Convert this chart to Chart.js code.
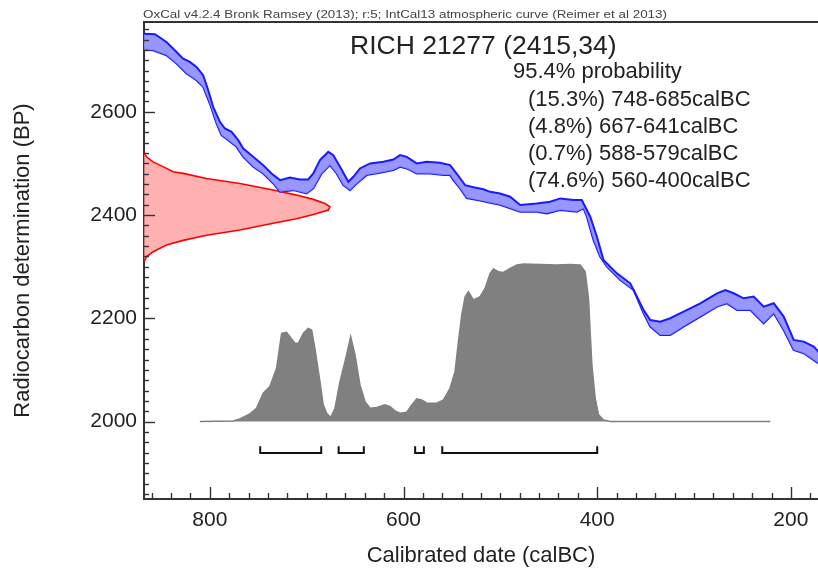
<!DOCTYPE html>
<html><head><meta charset="utf-8">
<script src="https://cdn.jsdelivr.net/npm/chart.js@4"></script>
<style>html,body{margin:0;padding:0;background:#fff;}#wrap{width:818px;height:571px;}</style>
</head><body><div id="wrap"><canvas id="c" width="818" height="571"></canvas></div>
<script>
// ---------- data ----------
const headerText = 'OxCal v4.2.4 Bronk Ramsey (2013); r:5; IntCal13 atmospheric curve (Reimer et al 2013)';
const sampleName = 'RICH 21277';
const sampleBP = 2415;
const sampleErr = 34;
const probLabel = '95.4% probability';
const xTickLabels = [800, 600, 400, 200];
const yTickLabels = [2000, 2200, 2400, 2600];

// calibration curve band (IntCal13), upper and lower edges
const curveUpperYears = [868.2,856.8,844.8,834.4,827.6,820.7,813.8,806.9,801.7,796.6,789.6,784.5,777.6,770.7,765.5,755.2,744.9,736.3,727.6,717.3,707.0,698.4,693.2,686.3,677.7,672.5,665.6,657.0,651.8,645.0,634.6,620.8,610.5,603.6,596.7,586.4,576.0,562.3,551.9,545.0,536.4,527.8,517.5,510.6,500.3,489.9,479.6,462.4,448.6,438.2,424.5,415.9,407.2,400.3,393.5,379.7,365.9,359.0,352.1,345.2,334.9,324.6,310.8,293.5,276.3,267.7,259.1,248.8,238.4,228.1,217.7,207.4,197.1,186.7,176.4,171.6,165];
const curveUpperBP    = [2751.5,2750.2,2735.4,2716.0,2703.1,2696.7,2687.0,2670.9,2641.9,2609.6,2580.6,2567.7,2561.2,2545.1,2529.0,2512.8,2496.7,2480.6,2467.7,2472.9,2469.0,2469.0,2480.6,2506.4,2522.5,2516.1,2493.5,2464.5,2474.2,2490.3,2500.0,2503.2,2507.7,2516.1,2512.8,2500.0,2503.2,2501.2,2496.8,2480,2458,2454,2450,2445,2441.9,2435.5,2419.4,2422.6,2425.8,2432.3,2429.1,2429.1,2396.8,2358.1,2312.9,2287.1,2267.8,2242.0,2216.2,2196.8,2193.6,2200.1,2213.0,2229.1,2248.5,2254.9,2248.5,2238.8,2242.0,2222.6,2229.1,2203.3,2158.2,2154.9,2145.3,2135.6,2128];
const curveLowerYears = [868.2,858.6,844.8,834.4,824.1,813.8,806.9,800.0,793.1,788.0,781.0,772.4,765.5,755.2,744.9,734.5,727.6,713.9,700.1,693.2,684.6,676.0,669.1,662.2,655.3,648.4,638.1,624.3,610.5,603.6,596.7,586.4,572.6,558.8,551.9,548.5,541.6,534.7,520.9,510.6,500.3,479.6,462.4,452.0,438.2,421.0,414.1,410.7,403.8,396.9,390.0,376.2,362.4,352.1,345.2,334.9,324.6,310.8,293.5,276.3,266.0,255.6,241.9,228.1,217.7,207.4,197.1,186.7,171.6,165];
const curveLowerBP    = [2720.5,2719.2,2709.6,2693.5,2674.1,2661.2,2648.3,2616.1,2577.4,2554.8,2545.1,2532.2,2512.8,2493.5,2480.6,2461.2,2445.1,2448.3,2441.9,2451.6,2480.6,2496.7,2480.6,2458.0,2448.3,2461.2,2477.4,2481.9,2487.1,2493.5,2490.3,2480.6,2480.6,2477.4,2477.4,2467.7,2451.6,2433,2428,2424,2420,2406.5,2406.5,2403.3,2409.7,2406.5,2412.9,2396.8,2351.6,2319.4,2300.1,2274.3,2254.9,2209.7,2184.0,2167.8,2167.8,2184.0,2203.3,2222.6,2229.1,2216.2,2216.2,2190.4,2209.7,2177.5,2138.8,2132.4,2112.9,2106];

// radiocarbon measurement (red), drawn against the y axis
const measYears = [868.2,865.4,858.6,844.8,837.9,827.6,803.4,769.0,734.6,710.4,693.2,681.1,676.0,677.7,693.2,710.4,734.6,769.0,803.4,827.6,844.8,858.6,865.4,868.2];
const measBP    = [2522.5,2512.8,2503.1,2490.4,2483.8,2480.7,2471.0,2461.3,2448.4,2438.7,2430.4,2422.6,2416.1,2409.7,2401,2393,2384,2371,2361,2351,2342,2329,2319,2309];

// calibrated probability distribution (grey)
const postYears = [810.3,775.9,769.0,758.7,751.8,744.9,738.0,731.1,725.9,720.8,717.3,712.1,708.7,703.5,698.4,694.9,691.5,686.3,682.9,679.4,675.3,670.8,665.6,658.8,654.6,650.1,645.0,639.8,634.6,627.7,619.1,613.9,608.8,603.6,596.7,591.5,586.4,581.2,576.0,565.7,558.8,551.9,546.8,543.3,539.9,536.4,533.0,527.8,520.9,515.8,510.6,507.2,502.0,496.8,489.9,483.0,476.1,458.9,441.7,427.9,417.6,412.4,409.0,407.3,405.5,402.1,398.6,393.4,386.6,221.2];
const postBP    = [2000,2001.3,2005.2,2014.8,2025.8,2054.8,2067.7,2103.2,2170.9,2172.9,2164.5,2151.6,2151.6,2170.9,2180.6,2177.4,2141.9,2077.4,2032.3,2016.1,2007.7,2025.8,2077.4,2129.0,2164.5,2129.0,2071.0,2038.7,2025.8,2027.1,2032.3,2029.0,2020.6,2016.1,2018.1,2032.3,2043.9,2041.9,2035.5,2035.5,2041.9,2064.5,2096.8,2154.8,2206.4,2241.9,2251.6,2235.4,2241.9,2258.0,2287.0,2295.4,2290.3,2289.0,2296.7,2303.2,2305.1,2304.4,2303.2,2304.4,2303.2,2290.3,2238.7,2174.2,2109.7,2045.2,2012.9,2003.2,2000,2000];

// 95.4% ranges
const rangePct   = [15.3, 4.8, 0.7, 74.6];
const rangeStart = [748, 667, 588, 560];
const rangeEnd   = [685, 641, 579, 400];

// ---------- build ----------
const pts = (xs, ys) => xs.map((v, i) => ({x: v, y: ys[i]}));
const bracketLow = 1939, bracketHigh = 1952;
const bracketPts = [];
rangeStart.forEach((s, i) => {
  const e = rangeEnd[i];
  bracketPts.push({x: s, y: bracketHigh}, {x: s, y: bracketLow}, {x: e, y: bracketLow}, {x: e, y: bracketHigh}, {x: e, y: null});
});

const FONT = '"Liberation Sans", Arial, Helvetica, sans-serif';
const TXT = '#222';

const decor = {
  id: 'decor',
  afterDraw(chart) {
    const {ctx, chartArea: a, scales: {x, y}} = chart;
    ctx.save();
    ctx.strokeStyle = '#333';
    ctx.lineWidth = 1.4;
    for (let v = 860; v >= 180; v -= 20) {
      const px = Math.round(x.getPixelForValue(v)) + 0.5;
      const len = v % 200 === 0 ? 12 : 6;
      ctx.beginPath(); ctx.moveTo(px, a.bottom); ctx.lineTo(px, a.bottom - len); ctx.stroke();
    }
    for (let v = 1860; v <= 2760; v += 20) {
      const py = Math.round(y.getPixelForValue(v)) + 0.5;
      const len = v % 200 === 0 ? 11 : 5;
      ctx.beginPath(); ctx.moveTo(a.left, py); ctx.lineTo(a.left + len, py); ctx.stroke();
    }
    ctx.lineWidth = 2;
    ctx.beginPath(); ctx.moveTo(a.left - 1, a.top); ctx.lineTo(a.right, a.top); ctx.stroke();

    ctx.fillStyle = '#444';
    ctx.textAlign = 'left';
    ctx.textBaseline = 'alphabetic';
    ctx.font = '11px ' + FONT;
    const w = ctx.measureText(headerText).width;
    ctx.save();
    ctx.translate(143, 17.5);
    ctx.scale(524 / w, 1);
    ctx.fillText(headerText, 0, 0);
    ctx.restore();

    ctx.fillStyle = TXT;
    ctx.font = '26.5px ' + FONT;
    ctx.fillText(sampleName + ' (' + sampleBP + ',' + sampleErr + ')', 350, 53.5);
    ctx.font = '22px ' + FONT;
    ctx.fillText(probLabel, 513, 78);
    rangePct.forEach((p, i) => {
      ctx.fillText('(' + p + '%) ' + rangeStart[i] + '-' + rangeEnd[i] + 'calBC', 528, 105.5 + i * 27);
    });
    ctx.restore();
  }
};

new Chart(document.getElementById('c'), {
  type: 'line',
  data: {
    datasets: [
      {data: pts(curveUpperYears, curveUpperBP), borderColor: '#1a1aff', borderWidth: 2, backgroundColor: 'rgba(140,140,255,0.9)', fill: '+1', pointRadius: 0, tension: 0},
      {data: pts(curveLowerYears, curveLowerBP), borderColor: '#1a1aff', borderWidth: 2, backgroundColor: 'rgba(140,140,255,0.9)', fill: false, pointRadius: 0, tension: 0},
      {data: pts(measYears, measBP), borderColor: '#ff0000', borderWidth: 1.6, backgroundColor: 'rgba(255,150,150,0.75)', fill: 'shape', pointRadius: 0, tension: 0},
      {data: pts(postYears, postBP), borderColor: '#808080', borderWidth: 1.5, backgroundColor: '#808080', fill: {value: 2000}, pointRadius: 0, tension: 0},
      {data: bracketPts, borderColor: '#111', borderWidth: 2, fill: false, pointRadius: 0, tension: 0, spanGaps: false}
    ]
  },
  options: {
    responsive: false,
    animation: false,
    devicePixelRatio: 1,
    layout: {padding: {top: 22, right: 0, left: 0, bottom: 0}},
    plugins: {legend: {display: false}, tooltip: {enabled: false}, title: {display: false}},
    scales: {
      x: {
        type: 'linear', reverse: true, min: 172, max: 868, position: 'bottom',
        afterBuildTicks: s => { s.ticks = xTickLabels.map(v => ({value: v})); },
        afterFit: s => { s.height = 72; },
        grid: {display: true, drawOnChartArea: false, drawTicks: false},
        border: {display: true, color: '#333', width: 2},
        ticks: {autoSkip: false, maxRotation: 0, padding: 9, color: TXT, font: {family: FONT, size: 21}, callback: v => String(v)},
        title: {display: true, text: 'Calibrated date (calBC)', color: TXT, font: {family: FONT, size: 22}, padding: {top: 0, bottom: 2}}
      },
      y: {
        type: 'linear', min: 1850, max: 2774,
        afterBuildTicks: s => { s.ticks = yTickLabels.map(v => ({value: v})); },
        afterFit: s => { s.width = 144; },
        grid: {display: true, drawOnChartArea: false, drawTicks: false},
        border: {display: true, color: '#333', width: 2},
        ticks: {autoSkip: false, padding: 7, color: TXT, font: {family: FONT, size: 21}, callback: v => String(v)},
        title: {display: true, text: 'Radiocarbon determination (BP)', color: TXT, font: {family: FONT, size: 22}, padding: {top: 10, bottom: 0}}
      }
    }
  },
  plugins: [decor]
});
</script>
</body></html>
